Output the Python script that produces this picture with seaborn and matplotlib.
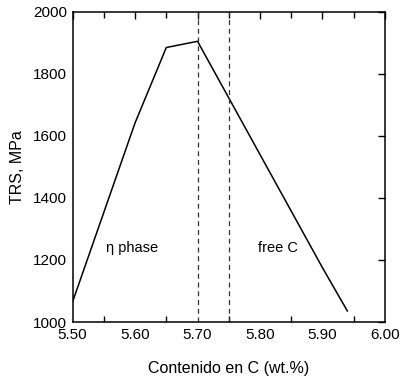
import matplotlib
matplotlib.use("Agg")
import matplotlib.pyplot as plt
import seaborn as sns
import pandas as pd
from matplotlib.ticker import MultipleLocator

carbon = [5.50, 5.60, 5.65, 5.70, 5.90, 5.94]
trs = [1065, 1642, 1885, 1905, 1175, 1035]
boundaries = [5.70, 5.75]

sns.set_theme(style="white")
plt.rcParams['font.family'] = ['Liberation Sans', 'DejaVu Sans']
plt.rcParams['text.color'] = 'black'
plt.rcParams['axes.labelcolor'] = 'black'
plt.rcParams['xtick.color'] = 'black'
plt.rcParams['ytick.color'] = 'black'

df = pd.DataFrame({"C": carbon, "TRS": trs})
fig = plt.figure(figsize=(4.01, 3.82), dpi=100)
ax = fig.add_axes([0.181, 0.157, 0.779, 0.812])
sns.lineplot(data=df, x="C", y="TRS", ax=ax, color="black", linewidth=1.1, sort=False)
for b in boundaries:
    ax.axvline(b, color="#333333", linestyle=(0, (4, 3)), linewidth=0.9)

ax.set_xlim(5.50, 6.00)
ax.set_ylim(1000, 2000)
ax.xaxis.set_major_locator(MultipleLocator(0.1))
ax.xaxis.set_minor_locator(MultipleLocator(0.05))
ax.yaxis.set_major_locator(MultipleLocator(200))
ax.set_xticklabels([f"{v:.2f}" for v in ax.get_xticks()])
ax.tick_params(which="both", direction="in", top=True, right=True, labelsize=11,
               color="black", labelcolor="black", width=1)
ax.tick_params(axis="x", pad=4)
ax.tick_params(axis="y", pad=4)
ax.tick_params(which="major", length=5)
ax.tick_params(which="minor", length=4, bottom=True, top=True)
for s in ax.spines.values():
    s.set_color("black")
    s.set_linewidth(1.1)
ax.set_xlabel("Contenido en C (wt.%)", fontsize=11.5, labelpad=14)
ax.set_ylabel("TRS, MPa", fontsize=11.5, labelpad=6)
ax.text(5.553, 1240, "η phase", fontsize=10.5, va="center", ha="left")
ax.text(5.797, 1240, "free C", fontsize=10.5, va="center", ha="left")
fig.savefig("out.png", dpi=100)
